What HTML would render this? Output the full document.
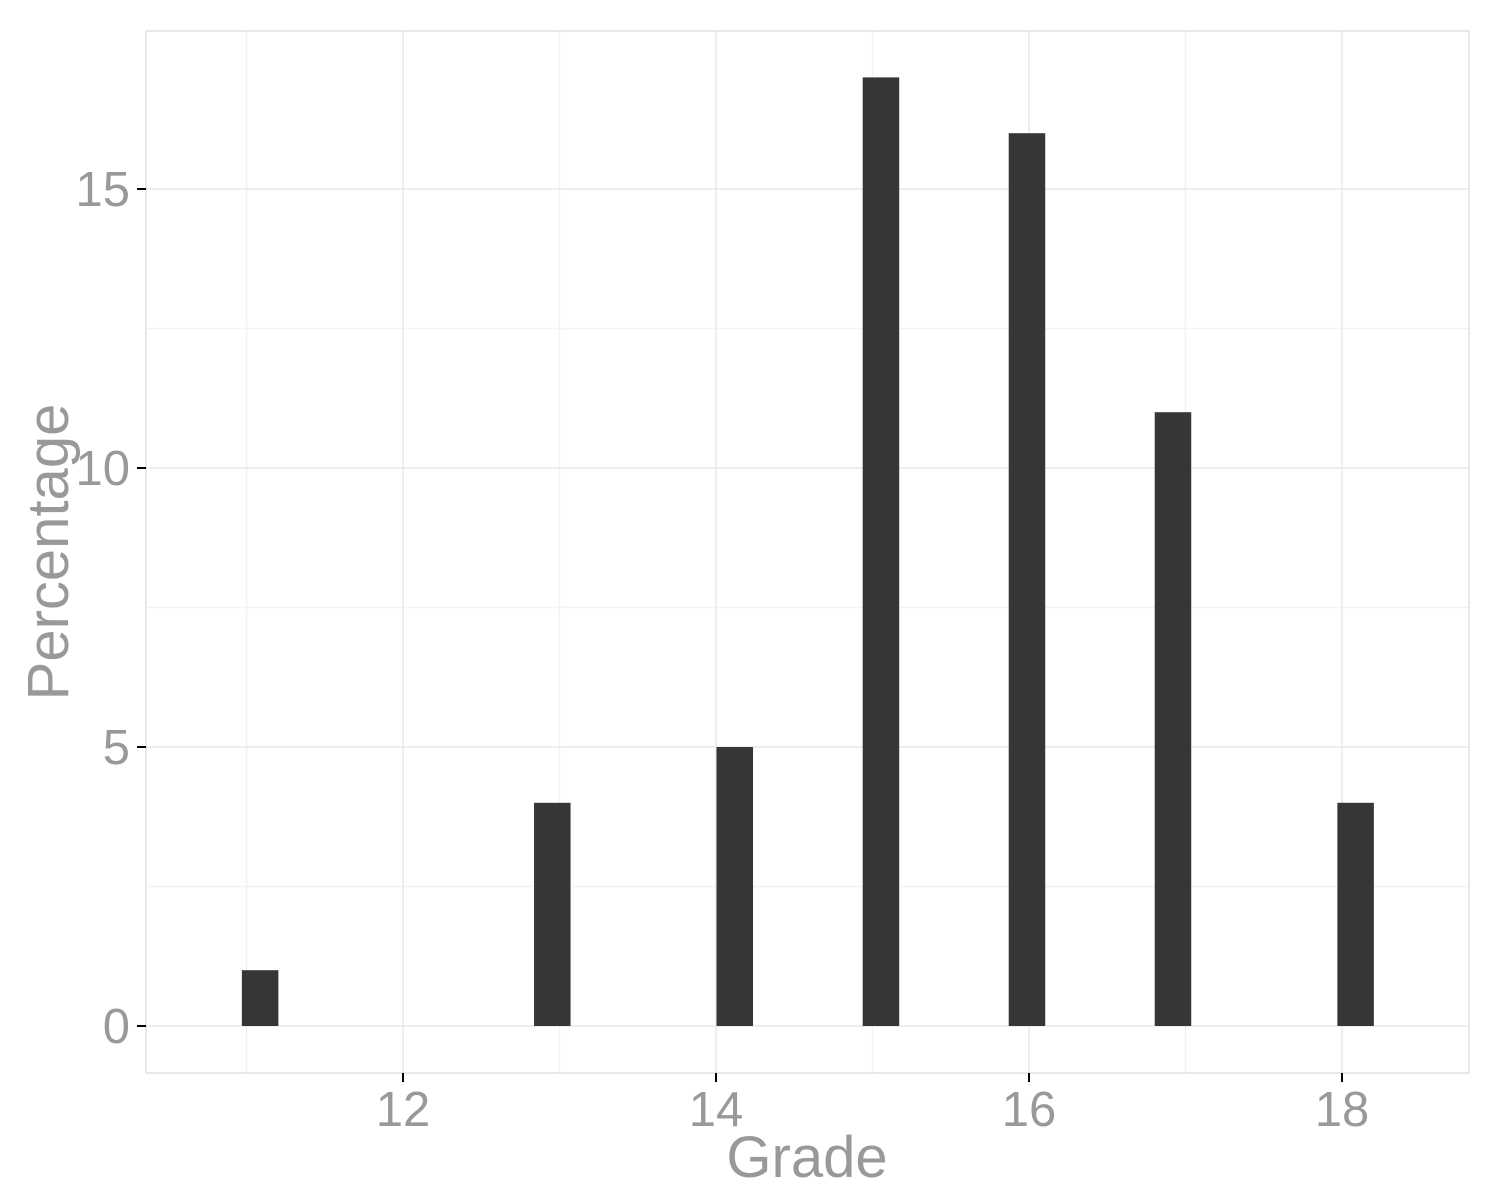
<!DOCTYPE html>
<html><head><meta charset="utf-8"><style>
html,body{margin:0;padding:0;background:#fff;overflow:hidden;width:1500px;height:1200px;}
svg{display:block;}
svg text{font-family:"Liberation Sans",sans-serif;}
</style></head><body>
<svg id="chart" width="1500" height="1200" xmlns="http://www.w3.org/2000/svg">
<rect x="0" y="0" width="1500" height="1200" fill="#fff"/>
<g id="grid"></g>
<g id="bars"></g>
<rect x="146" y="31" width="1323" height="1042" fill="none" stroke="#e0e0e0" stroke-width="1.5"/>
<g id="axes"></g>
<text x="807" y="1177" font-size="58" fill="#999" text-anchor="middle">Grade</text>
<text transform="translate(68,552) rotate(-90)" font-size="58" fill="#999" text-anchor="middle">Percentage</text>
</svg>
<script>
const binCenters = [11.087, 12.954, 14.12, 15.054, 15.987, 16.92, 18.087];
const percentages = [1, 4, 5, 17, 16, 11, 4];
const binWidth = 0.2333;
const xTicks = [12, 14, 16, 18];
const yTicks = [0, 5, 10, 15];

const NS = "http://www.w3.org/2000/svg";
function xs(v){ return 403 + (v - 12) * 156.5; }
function ys(v){ return 1026 - v * 55.8; }
function mk(tag, attrs, parent){
  const e = document.createElementNS(NS, tag);
  for (const k in attrs) e.setAttribute(k, attrs[k]);
  parent.appendChild(e); return e;
}
const grid = document.getElementById('grid');
const bars = document.getElementById('bars');
const axes = document.getElementById('axes');

for (let v = 11; v <= 17; v += 2) {
  const l = mk('line', {x1: xs(v), x2: xs(v), y1: 31, y2: 1073, stroke: '#f3f3f3', 'stroke-width': 1.5}, grid);
  
  
}
for (let v = 2.5; v <= 12.5; v += 5) {
  const l = mk('line', {x1: 146, x2: 1469, y1: ys(v), y2: ys(v), stroke: '#f3f3f3', 'stroke-width': 1.5}, grid);
  
  
}
xTicks.forEach(t => {
  const l = mk('line', {x1: xs(t), x2: xs(t), y1: 31, y2: 1073, stroke: '#e8e8e8', 'stroke-width': 1.5}, grid);
  
  
  const tk = mk('line', {x1: xs(t), x2: xs(t), y1: 1073, y2: 1082, stroke: '#000', 'stroke-width': 2}, axes);
  
  
  const tx = mk('text', {x: xs(t), y: 1126, 'font-size': 49, fill: '#999', 'text-anchor': 'middle'}, axes);
  tx.textContent = t;
  
  
});
yTicks.forEach(t => {
  const l = mk('line', {x1: 146, x2: 1469, y1: ys(t), y2: ys(t), stroke: '#e8e8e8', 'stroke-width': 1.5}, grid);
  
  
  const tk = mk('line', {x1: 137, x2: 146, y1: ys(t), y2: ys(t), stroke: '#000', 'stroke-width': 2}, axes);
  
  
  const tx = mk('text', {x: 130, y: ys(t) + 17, 'font-size': 49, fill: '#999', 'text-anchor': 'end'}, axes);
  tx.textContent = t;
  
  
});
binCenters.forEach((c, i) => {
  const x0 = xs(c - binWidth / 2), x1 = xs(c + binWidth / 2);
  const r = mk('rect', {x: x0, y: ys(percentages[i]), width: x1 - x0, height: ys(0) - ys(percentages[i]), fill: '#363636'}, bars);
  
  
});
</script>
</body></html>
